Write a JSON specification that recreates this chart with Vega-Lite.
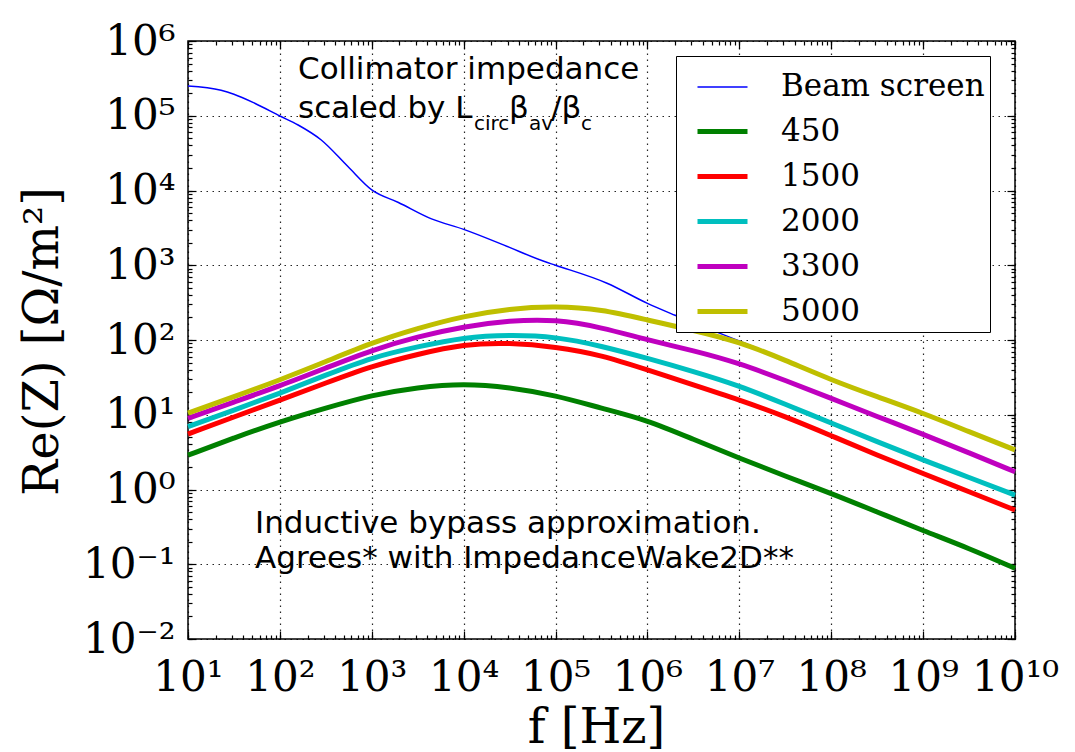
{
  "$schema": "https://vega.github.io/schema/vega-lite/v6.json",
  "width": 827,
  "height": 598,
  "autosize": {"type": "none"},
  "padding": {"left": 188, "top": 41, "right": 60, "bottom": 113},
  "background": "white",
  "config": {
    "view": {"stroke": "black", "strokeWidth": 1.5},
    "axis": {"tickColor": "black", "tickWidth": 1.2, "domain": false, "labelColor": "black", "titleColor": "black"}
  },
  "datasets": {
    "curves": [
      {"s": "Beam screen", "f": 10, "Z": 250000},
      {"s": "Beam screen", "f": 22.9, "Z": 219000},
      {"s": "Beam screen", "f": 31.6, "Z": 193600},
      {"s": "Beam screen", "f": 53.2, "Z": 146900},
      {"s": "Beam screen", "f": 100, "Z": 99300},
      {"s": "Beam screen", "f": 158, "Z": 75200},
      {"s": "Beam screen", "f": 282, "Z": 47400},
      {"s": "Beam screen", "f": 550, "Z": 20900},
      {"s": "Beam screen", "f": 1000, "Z": 10200},
      {"s": "Beam screen", "f": 1950, "Z": 6920},
      {"s": "Beam screen", "f": 4470, "Z": 4170},
      {"s": "Beam screen", "f": 10000, "Z": 3020},
      {"s": "Beam screen", "f": 27500, "Z": 1860},
      {"s": "Beam screen", "f": 75900, "Z": 1120},
      {"s": "Beam screen", "f": 100000, "Z": 1000},
      {"s": "Beam screen", "f": 363000, "Z": 575},
      {"s": "Beam screen", "f": 1000000, "Z": 309},
      {"s": "Beam screen", "f": 2000000, "Z": 214},
      {"s": "Beam screen", "f": 9330000, "Z": 100},
      {"s": "Beam screen", "f": 15500000, "Z": 77.6},
      {"s": "Beam screen", "f": 31600000, "Z": 52.5},
      {"s": "Beam screen", "f": 100000000, "Z": 28.8},
      {"s": "Beam screen", "f": 316000000, "Z": 17.0},
      {"s": "Beam screen", "f": 1000000000, "Z": 10.35},
      {"s": "Beam screen", "f": 3160000000, "Z": 5.89},
      {"s": "Beam screen", "f": 10000000000, "Z": 3.35},

      {"s": "450", "f": 10, "Z": 2.88},
      {"s": "450", "f": 31.6, "Z": 4.90},
      {"s": "450", "f": 100, "Z": 8.07},
      {"s": "450", "f": 316, "Z": 12.3},
      {"s": "450", "f": 1000, "Z": 18.4},
      {"s": "450", "f": 3160, "Z": 23.3},
      {"s": "450", "f": 10000, "Z": 26.3},
      {"s": "450", "f": 31600, "Z": 23.3},
      {"s": "450", "f": 100000, "Z": 18.2},
      {"s": "450", "f": 316000, "Z": 12.2},
      {"s": "450", "f": 1000000, "Z": 8.51},
      {"s": "450", "f": 3160000, "Z": 4.68},
      {"s": "450", "f": 10000000, "Z": 2.63},
      {"s": "450", "f": 31600000, "Z": 1.51},
      {"s": "450", "f": 100000000, "Z": 0.889},
      {"s": "450", "f": 316000000, "Z": 0.501},
      {"s": "450", "f": 1000000000, "Z": 0.281},
      {"s": "450", "f": 3160000000, "Z": 0.163},
      {"s": "450", "f": 10000000000, "Z": 0.0883},

      {"s": "1500", "f": 10, "Z": 5.52},
      {"s": "1500", "f": 31.6, "Z": 9.33},
      {"s": "1500", "f": 100, "Z": 15.7},
      {"s": "1500", "f": 316, "Z": 26.6},
      {"s": "1500", "f": 1000, "Z": 44.9},
      {"s": "1500", "f": 3160, "Z": 64.6},
      {"s": "1500", "f": 10000, "Z": 88.3},
      {"s": "1500", "f": 31600, "Z": 92.0},
      {"s": "1500", "f": 100000, "Z": 81.3},
      {"s": "1500", "f": 316000, "Z": 63.1},
      {"s": "1500", "f": 1000000, "Z": 39.8},
      {"s": "1500", "f": 3160000, "Z": 25.1},
      {"s": "1500", "f": 10000000, "Z": 15.8},
      {"s": "1500", "f": 31600000, "Z": 9.5},
      {"s": "1500", "f": 100000000, "Z": 5.25},
      {"s": "1500", "f": 316000000, "Z": 2.88},
      {"s": "1500", "f": 1000000000, "Z": 1.64},
      {"s": "1500", "f": 3160000000, "Z": 0.933},
      {"s": "1500", "f": 10000000000, "Z": 0.532},

      {"s": "2000", "f": 10, "Z": 6.92},
      {"s": "2000", "f": 31.6, "Z": 11.5},
      {"s": "2000", "f": 100, "Z": 19.4},
      {"s": "2000", "f": 316, "Z": 33.9},
      {"s": "2000", "f": 1000, "Z": 58.6},
      {"s": "2000", "f": 3160, "Z": 81.3},
      {"s": "2000", "f": 10000, "Z": 109},
      {"s": "2000", "f": 31600, "Z": 117},
      {"s": "2000", "f": 100000, "Z": 111},
      {"s": "2000", "f": 316000, "Z": 83.2},
      {"s": "2000", "f": 1000000, "Z": 56.9},
      {"s": "2000", "f": 3160000, "Z": 38.0},
      {"s": "2000", "f": 10000000, "Z": 24.5},
      {"s": "2000", "f": 31600000, "Z": 13.8},
      {"s": "2000", "f": 100000000, "Z": 7.76},
      {"s": "2000", "f": 316000000, "Z": 4.37},
      {"s": "2000", "f": 1000000000, "Z": 2.48},
      {"s": "2000", "f": 3160000000, "Z": 1.45},
      {"s": "2000", "f": 10000000000, "Z": 0.843},

      {"s": "3300", "f": 10, "Z": 8.97},
      {"s": "3300", "f": 31.6, "Z": 14.8},
      {"s": "3300", "f": 100, "Z": 24.3},
      {"s": "3300", "f": 316, "Z": 42.2},
      {"s": "3300", "f": 1000, "Z": 73.5},
      {"s": "3300", "f": 3160, "Z": 111},
      {"s": "3300", "f": 10000, "Z": 151},
      {"s": "3300", "f": 31600, "Z": 182},
      {"s": "3300", "f": 100000, "Z": 189},
      {"s": "3300", "f": 316000, "Z": 148},
      {"s": "3300", "f": 1000000, "Z": 100},
      {"s": "3300", "f": 3160000, "Z": 72.4},
      {"s": "3300", "f": 10000000, "Z": 49.0},
      {"s": "3300", "f": 31600000, "Z": 28.8},
      {"s": "3300", "f": 100000000, "Z": 16.6},
      {"s": "3300", "f": 316000000, "Z": 9.45},
      {"s": "3300", "f": 1000000000, "Z": 5.50},
      {"s": "3300", "f": 3160000000, "Z": 3.09},
      {"s": "3300", "f": 10000000000, "Z": 1.73},

      {"s": "5000", "f": 10, "Z": 10.5},
      {"s": "5000", "f": 31.6, "Z": 17.4},
      {"s": "5000", "f": 100, "Z": 29.2},
      {"s": "5000", "f": 316, "Z": 51.3},
      {"s": "5000", "f": 1000, "Z": 92.0},
      {"s": "5000", "f": 3160, "Z": 143.5},
      {"s": "5000", "f": 10000, "Z": 209},
      {"s": "5000", "f": 31600, "Z": 263},
      {"s": "5000", "f": 100000, "Z": 285},
      {"s": "5000", "f": 316000, "Z": 257},
      {"s": "5000", "f": 1000000, "Z": 185},
      {"s": "5000", "f": 3160000, "Z": 135},
      {"s": "5000", "f": 10000000, "Z": 94.8},
      {"s": "5000", "f": 31600000, "Z": 53.7},
      {"s": "5000", "f": 100000000, "Z": 29.2},
      {"s": "5000", "f": 316000000, "Z": 17.4},
      {"s": "5000", "f": 1000000000, "Z": 10.5},
      {"s": "5000", "f": 3160000000, "Z": 5.93},
      {"s": "5000", "f": 10000000000, "Z": 3.39}
    ],
    "notes": [
      {"f": 157.4, "Z": 309000, "t": "Collimator impedance"},
      {"f": 157.4, "Z": 93000, "t": "scaled by L"},
      {"f": 31120, "Z": 93000, "t": "β"},
      {"f": 89130, "Z": 93000, "t": "/β"},
      {"f": 53.6, "Z": 0.262, "t": "Inductive bypass approximation."},
      {"f": 53.6, "Z": 0.089, "t": "Agrees* with ImpedanceWake2D**"}
    ],
    "subs": [
      {"f": 12940, "Z": 64500, "t": "circ"},
      {"f": 51290, "Z": 64500, "t": "av"},
      {"f": 188800, "Z": 64500, "t": "c"}
    ]
  },
  "resolve": {"axis": {"x": "independent", "y": "independent"}},
  "layer": [
    {
      "data": {"name": "curves"},
      "transform": [{"filter": "datum.s === 'Beam screen'"}],
      "mark": {"type": "line", "interpolate": "monotone"},
      "encoding": {
        "x": {
          "field": "f", "type": "quantitative",
          "scale": {"type": "log", "domain": [10, 10000000000], "nice": false},
          "axis": {
            "orient": "bottom",
            "values": [10, 100, 1000, 10000, 100000, 1000000, 10000000, 100000000, 1000000000, 10000000000],
            "labelExpr": "'10' + ['','¹','²','³','⁴','⁵','⁶','⁷','⁸','⁹','¹⁰'][round(log(datum.value)/LN10)]",
            "labelFont": "DejaVu Serif", "labelFontSize": 42, "labelBaseline": "alphabetic",
            "labelPadding": 59, "labelFlush": false, "labelOverlap": false,
            "tickSize": -8,
            "grid": true, "gridColor": "black", "gridDash": [1.5, 4.5], "gridWidth": 1.2, "gridOpacity": 0.85,
            "title": "f [Hz]", "titleFont": "DejaVu Serif", "titleFontSize": 48, "titleFontWeight": "normal",
            "titleX": 408, "titleY": 89, "titleBaseline": "middle", "titleAlign": "center"
          }
        },
        "y": {
          "field": "Z", "type": "quantitative",
          "scale": {"type": "log", "domain": [0.01, 1000000], "nice": false},
          "axis": {
            "orient": "left",
            "values": [0.01, 0.1, 1, 10, 100, 1000, 10000, 100000, 1000000],
            "labelExpr": "'10' + ['⁻²','⁻¹','⁰','¹','²','³','⁴','⁵','⁶'][round(log(datum.value)/LN10)+2]",
            "labelFont": "DejaVu Serif", "labelFontSize": 42, "labelBaseline": "middle", "labelAlign": "right",
            "labelPadding": 21, "labelFlush": false, "labelOverlap": false,
            "tickSize": -8,
            "grid": true, "gridColor": "black", "gridDash": [1.5, 4.5], "gridWidth": 1.2, "gridOpacity": 0.85,
            "title": "Re(Z) [Ω/m²]", "titleFont": "DejaVu Serif", "titleFontSize": 48, "titleFontWeight": "normal",
            "titleX": -145, "titleY": 300, "titleAngle": 270, "titleBaseline": "middle", "titleAlign": "center"
          }
        },
        "color": {
          "field": "s", "type": "nominal",
          "scale": {"domain": ["Beam screen", "450", "1500", "2000", "3300", "5000"], "range": ["#0000ff", "#008000", "#ff0000", "#00bfbf", "#bf00bf", "#bfbf00"]},
          "legend": {"title": null, "orient": "none", "legendX": 488, "legendY": 15, "symbolType": "stroke", "symbolSize": 2500, "symbolOffset": 14, "labelOffset": 31, "labelFont": "DejaVu Serif", "labelFontSize": 31, "labelColor": "black", "labelLimit": 400, "padding": 5, "rowPadding": 2, "strokeColor": "black", "fillColor": "white", "cornerRadius": 0}
        },
        "strokeWidth": {
          "field": "s", "type": "nominal",
          "scale": {"type": "ordinal", "domain": ["Beam screen", "450", "1500", "2000", "3300", "5000"], "range": [1.5, 5, 5, 5, 5, 5]},
          "legend": {"title": null, "orient": "none", "legendX": 488, "legendY": 15, "symbolType": "stroke", "symbolSize": 2500, "symbolOffset": 14, "labelOffset": 31, "labelFont": "DejaVu Serif", "labelFontSize": 31, "labelColor": "black", "labelLimit": 400, "padding": 5, "rowPadding": 2, "strokeColor": "black", "fillColor": "white", "cornerRadius": 0}
        }
      }
    },
    {
      "data": {"name": "curves"},
      "transform": [{"filter": "datum.s !== 'Beam screen'"}],
      "mark": {"type": "line", "interpolate": "basis"},
      "encoding": {
        "x": {
          "field": "f", "type": "quantitative",
          "scale": {"type": "log", "domain": [10, 10000000000], "nice": false},
          "axis": {"orient": "bottom", "tickCount": 100, "labels": false, "grid": false, "tickSize": -4, "title": null}
        },
        "y": {
          "field": "Z", "type": "quantitative",
          "scale": {"type": "log", "domain": [0.01, 1000000], "nice": false},
          "axis": {"orient": "left", "tickCount": 100, "labels": false, "grid": false, "tickSize": -4, "title": null}
        },
        "color": {
          "field": "s", "type": "nominal",
          "scale": {"domain": ["Beam screen", "450", "1500", "2000", "3300", "5000"], "range": ["#0000ff", "#008000", "#ff0000", "#00bfbf", "#bf00bf", "#bfbf00"]},
          "legend": {"title": null, "orient": "none", "legendX": 488, "legendY": 15, "symbolType": "stroke", "symbolSize": 2500, "symbolOffset": 14, "labelOffset": 31, "labelFont": "DejaVu Serif", "labelFontSize": 31, "labelColor": "black", "labelLimit": 400, "padding": 5, "rowPadding": 2, "strokeColor": "black", "fillColor": "white", "cornerRadius": 0}
        },
        "strokeWidth": {
          "field": "s", "type": "nominal",
          "scale": {"type": "ordinal", "domain": ["Beam screen", "450", "1500", "2000", "3300", "5000"], "range": [1.5, 5, 5, 5, 5, 5]},
          "legend": {"title": null, "orient": "none", "legendX": 488, "legendY": 15, "symbolType": "stroke", "symbolSize": 2500, "symbolOffset": 14, "labelOffset": 31, "labelFont": "DejaVu Serif", "labelFontSize": 31, "labelColor": "black", "labelLimit": 400, "padding": 5, "rowPadding": 2, "strokeColor": "black", "fillColor": "white", "cornerRadius": 0}
        }
      }
    },
    {
      "data": {"name": "notes"},
      "mark": {"type": "text", "align": "left", "baseline": "alphabetic", "font": "DejaVu Sans", "fontSize": 31, "color": "black"},
      "encoding": {
        "x": {
          "field": "f", "type": "quantitative",
          "scale": {"type": "log", "domain": [10, 10000000000], "nice": false},
          "axis": {"orient": "top", "values": [10, 100, 1000, 10000, 100000, 1000000, 10000000, 100000000, 1000000000, 10000000000], "labels": false, "grid": false, "tickSize": -8, "title": null}
        },
        "y": {
          "field": "Z", "type": "quantitative",
          "scale": {"type": "log", "domain": [0.01, 1000000], "nice": false},
          "axis": {"orient": "right", "values": [0.01, 0.1, 1, 10, 100, 1000, 10000, 100000, 1000000], "labels": false, "grid": false, "tickSize": -8, "title": null}
        },
        "text": {"field": "t", "type": "nominal"}
      }
    },
    {
      "data": {"name": "subs"},
      "mark": {"type": "text", "align": "left", "baseline": "alphabetic", "font": "DejaVu Sans", "fontSize": 20, "color": "black"},
      "encoding": {
        "x": {
          "field": "f", "type": "quantitative",
          "scale": {"type": "log", "domain": [10, 10000000000], "nice": false},
          "axis": {"orient": "top", "tickCount": 100, "labels": false, "grid": false, "tickSize": -4, "title": null}
        },
        "y": {
          "field": "Z", "type": "quantitative",
          "scale": {"type": "log", "domain": [0.01, 1000000], "nice": false},
          "axis": {"orient": "right", "tickCount": 100, "labels": false, "grid": false, "tickSize": -4, "title": null}
        },
        "text": {"field": "t", "type": "nominal"}
      }
    }
  ]
}
